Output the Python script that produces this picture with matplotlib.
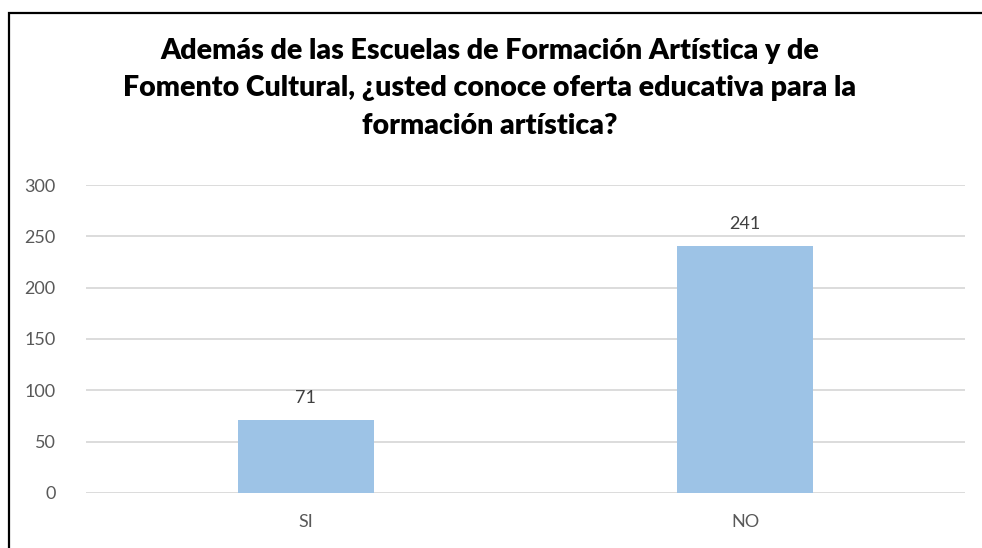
import matplotlib.pyplot as plt
from matplotlib.patches import Rectangle

categories = ['SI', 'NO']
values = [71, 241]
yticks = [0, 50, 100, 150, 200, 250, 300]
title = ('Además de las Escuelas de Formación Artística y de\n'
         'Fomento Cultural, ¿usted conoce oferta educativa para la\n'
         'formación artística?')

plt.rcParams['font.family'] = ['Lato', 'DejaVu Sans']

fig = plt.figure(figsize=(9.82, 5.48), dpi=100)
ax = fig.add_axes([0.0876, 0.1004, 0.8951, 0.562])

x = range(len(categories))
bars = ax.bar(x, values, width=0.31, color='#9DC3E6', zorder=2)
for b, v in zip(bars, values):
    ax.annotate(str(v), xy=(b.get_x() + b.get_width() / 2, v),
                xytext=(0, 10), textcoords='offset points',
                ha='center', va='bottom', fontsize=13, color='#404040')

ax.set_xlim(-0.5, 1.5)
ax.set_ylim(0, 300)
ax.set_yticks(yticks)
ax.set_xticks(list(x))
ax.set_xticklabels(categories)
ax.tick_params(axis='both', length=0, labelsize=13, labelcolor='#595959')
ax.tick_params(axis='x', pad=15)
ax.tick_params(axis='y', pad=22)
ax.grid(axis='y', color='#D9D9D9', linewidth=1.3, zorder=0)
for s in ax.spines.values():
    s.set_visible(False)

fig.text(0.499, 0.93, title, ha='center', va='top', fontsize=20.5,
         fontweight='heavy', linespacing=1.53, color='black')

fig.patches.append(Rectangle((9 / 982, -0.2), 1.2, 1.2 - 13 / 548,
                             transform=fig.transFigure, fill=False,
                             edgecolor='black', linewidth=1.6))

fig.savefig('out.png', dpi=100)
